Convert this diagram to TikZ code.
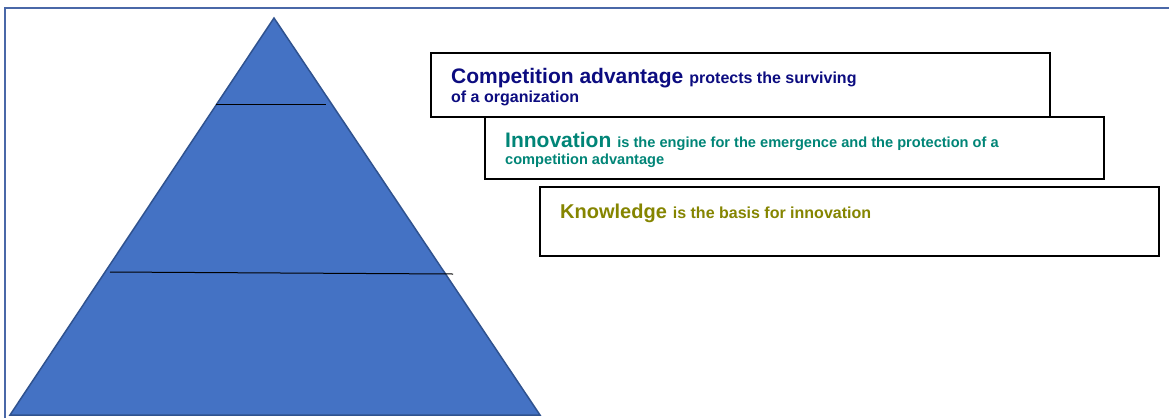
\documentclass[tikz,border=0pt]{standalone}
\usepackage{fontspec}
\setmainfont{Liberation Sans}
\usepackage{tikz}
\usetikzlibrary{positioning}

\definecolor{pyrblue}{HTML}{4472C4}
\definecolor{pyredge}{HTML}{2F528F}
\definecolor{framecol}{HTML}{4A68A8}
\definecolor{advcol}{HTML}{0C0C80}
\definecolor{innovcol}{HTML}{008577}
\definecolor{knowcol}{HTML}{858500}

\newcommand{\bigword}[2][21]{{\fontsize{#1}{25}\selectfont #2}\hspace{6pt}}
\newcommand{\smallwords}[2][15]{{\fontsize{#1}{18}\selectfont #2}}

\begin{document}
\begin{tikzpicture}[x=1pt, y=-1pt,
	levelbox/.style={draw=black, line width=1.6pt, fill=white, rectangle, anchor=north west, minimum width=619pt, inner sep=0pt},
	boxtext/.style={anchor=base west, inner sep=0pt, font=\bfseries}]

	\useasboundingbox (0,0) rectangle (1169,418);

	% frame
	\draw[framecol, line width=2pt] (5,418) -- (5,8) -- (1170,8);

	% pyramid
	\coordinate (apex) at (274,18);
	\coordinate (baseL) at (10,415);
	\coordinate (baseR) at (540,415);
	\draw[fill=pyrblue, draw=pyredge, line width=1.5pt] (apex) -- (baseR) -- (baseL) -- cycle;
	\draw[line width=1pt] (216,104) -- (326,104);
	\draw[line width=1pt] (110,272) -- (453,274);

	% boxes
	\node[levelbox, minimum height=64pt] (cadv) at (430,52) {};
	\node[levelbox, minimum height=62pt] (innov) at (484,116) {};
	\node[levelbox, minimum height=69pt] (know) at (539,186) {};

	% Competition advantage
	\node[boxtext, text=advcol] (cadv1) at ([shift={(21,31)}]cadv.north west)
		{\bigword{Competition advantage}\smallwords[16]{protects the surviving}};
	\node[boxtext, text=advcol] (cadv2) at ([shift={(21,50)}]cadv.north west)
		{\smallwords[16]{of a organization}};

	% Innovation
	\node[boxtext, text=innovcol] (innov1) at ([shift={(21,31)}]innov.north west)
		{\bigword{Innovation}\smallwords[14.6]{is the engine for the emergence and the protection of a}};
	\node[boxtext, text=innovcol] (innov2) at ([shift={(21,48)}]innov.north west)
		{\smallwords[14.6]{competition advantage}};

	% Knowledge
	\node[boxtext, text=knowcol] (know1) at ([shift={(21,32)}]know.north west)
		{\bigword[20]{Knowledge}\smallwords[16]{is the basis for innovation}};

\end{tikzpicture}
\end{document}
